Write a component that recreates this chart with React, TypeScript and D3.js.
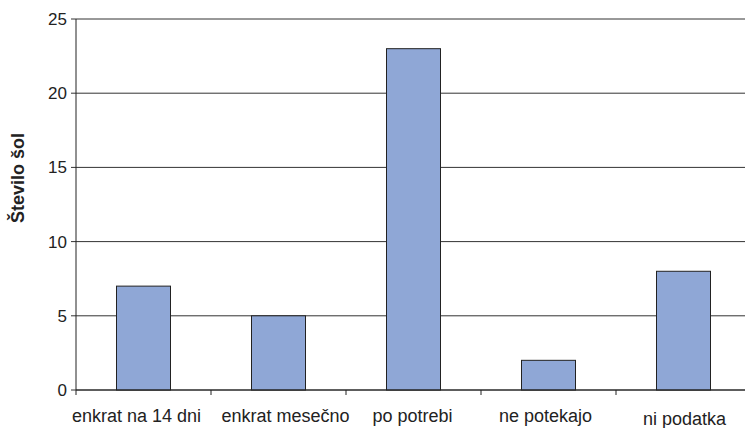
import React from "react";
import * as d3 from "d3";

const categories = ["enkrat na 14 dni", "enkrat mesečno", "po potrebi", "ne potekajo", "ni podatka"];
const values = [7, 5, 23, 2, 8];
const yTicks = [0, 5, 10, 15, 20, 25];
const yLabel = "Število šol";

export default function App() {
  const W = 745, H = 428;
  const left = 76, right = 751, top = 19, bottom = 390;
  const x = d3.scaleBand<string>().domain(categories).range([left, right]).paddingInner(0.6).paddingOuter(0.3);
  const xb = d3.scaleBand<string>().domain(categories).range([left, right]);
  const y = d3.scaleLinear().domain([0, 25]).range([bottom, top]);
  const font = "Liberation Sans, Arial, sans-serif";
  const labelShift = [-7, 7, -1, -3, 1];
  return (
    <svg width={W} height={H} style={{ position: "absolute", left: 0, top: 0, background: "#fff" }}>
      {yTicks.map((t) => (
        <g key={t}>
          <line x1={left - 5} x2={W} y1={y(t)} y2={y(t)} stroke="#333" strokeWidth={1} />
          <text x={left - 9} y={y(t)} dy="0.35em" textAnchor="end" fontFamily={font} fontSize={17} fill="#222">{t}</text>
        </g>
      ))}
      {categories.map((c, i) => (
        <rect key={c} x={x(c)!} y={y(values[i])} width={x.bandwidth()} height={bottom - y(values[i])}
          fill="#8FA7D6" stroke="#222" strokeWidth={1} />
      ))}
      <line x1={left} x2={left} y1={top} y2={bottom} stroke="#222" strokeWidth={1} />
      <line x1={left} x2={W} y1={bottom} y2={bottom} stroke="#222" strokeWidth={1} />
      {categories.map((c, i) => (
        <g key={c}>
          <line x1={xb(c)!} x2={xb(c)!} y1={bottom} y2={bottom + 5} stroke="#222" />
          <text x={xb(c)! + xb.bandwidth() / 2 + labelShift[i]} y={i === 4 ? 425 : 422} textAnchor="middle" fontFamily={font} fontSize={18} fill="#222">{c}</text>
        </g>
      ))}
      <text transform="translate(24,178) rotate(-90)" textAnchor="middle" fontFamily={font} fontSize={18} fontWeight="bold" fill="#222">{yLabel}</text>
    </svg>
  );
}
